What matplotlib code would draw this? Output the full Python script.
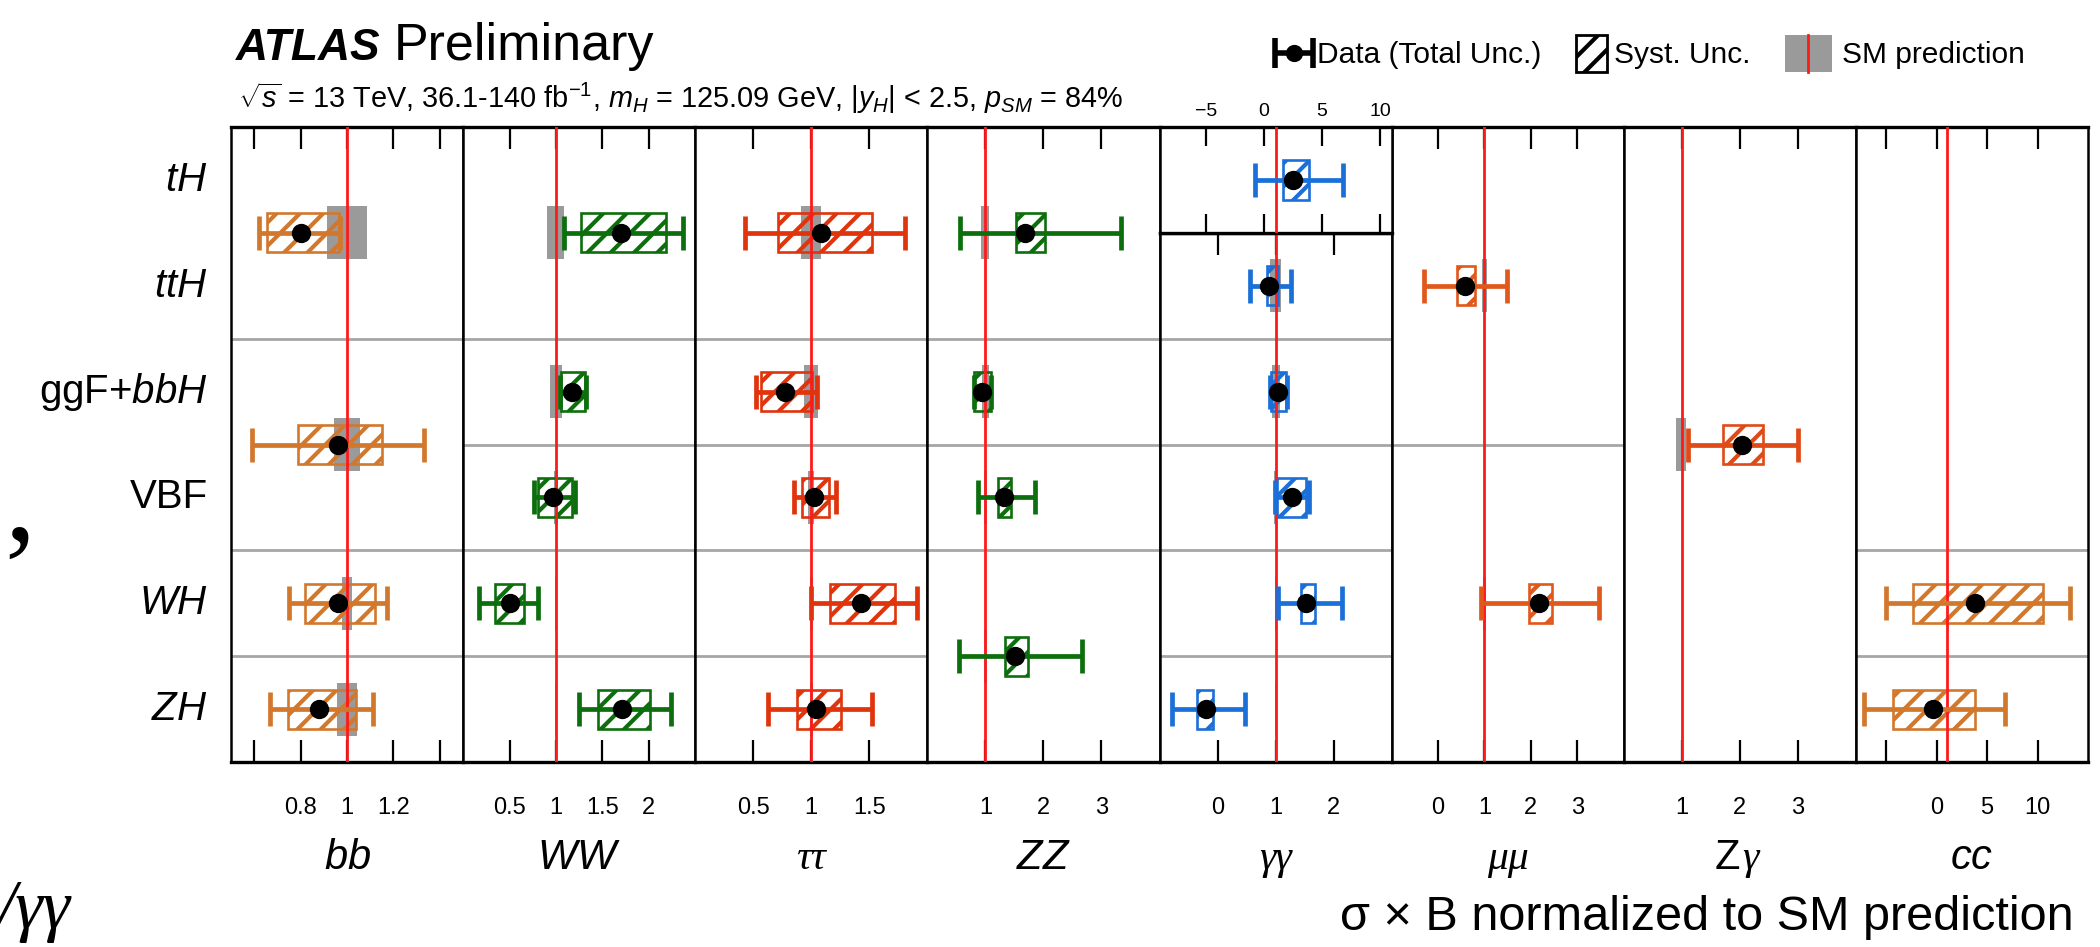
import matplotlib
matplotlib.use("Agg")
import matplotlib.pyplot as plt
from matplotlib.patches import Rectangle
from matplotlib.transforms import blended_transform_factory

# rendering at a higher dpi makes the hatch pattern coarser; K keeps sizes as at 100 dpi
DPI = 140
K = 100 / DPI

plt.rcParams['font.family'] = ['Liberation Sans', 'DejaVu Sans']
plt.rcParams['mathtext.fontset'] = 'custom'
plt.rcParams['mathtext.rm'] = 'Liberation Sans'
plt.rcParams['mathtext.it'] = 'Liberation Sans:italic'
plt.rcParams['mathtext.bf'] = 'Liberation Sans:bold'
plt.rcParams['hatch.linewidth'] = 3.0 * K

# production modes, top to bottom (row 0 = tH ... row 5 = ZH)
row_labels = ['$tH$', '$ttH$', 'ggF+$bbH$', 'VBF', '$WH$', '$ZH$']

# per channel: row of the fitted group, best fit, total unc. interval, syst. interval, SM band
bb_rows = [0.5, 2.5, 4, 5]
bb_mu = [0.80, 0.96, 0.96, 0.88]
bb_tot = [(0.62, 0.97), (0.59, 1.33), (0.75, 1.17), (0.67, 1.11)]
bb_syst = [(0.655, 0.965), (0.79, 1.15), (0.82, 1.12), (0.745, 1.04)]
bb_sm = [(0.913, 1.087), (0.943, 1.057), (0.978, 1.022), (0.958, 1.042)]

ww_rows = [0.5, 2, 3, 4, 5]
ww_mu = [1.70, 1.17, 0.97, 0.50, 1.71]
ww_tot = [(1.085, 2.365), (1.04, 1.32), (0.76, 1.21), (0.17, 0.81), (1.25, 2.24)]
ww_syst = [(1.27, 2.18), (1.05, 1.31), (0.81, 1.17), (0.34, 0.66), (1.45, 2.01)]
ww_sm = [(0.906, 1.085), (0.937, 1.07), (0.98, 1.02), (0.985, 1.015), (0.985, 1.015)]

tt_rows = [0.5, 2, 3, 4, 5]
tt_mu = [1.08, 0.77, 1.02, 1.43, 1.04]
tt_tot = [(0.43, 1.81), (0.52, 1.05), (0.85, 1.21), (1.00, 1.91), (0.63, 1.52)]
tt_syst = [(0.71, 1.52), (0.57, 1.01), (0.92, 1.15), (1.16, 1.72), (0.88, 1.26)]
tt_sm = [(0.91, 1.085), (0.94, 1.055), (0.975, 1.025), (0.985, 1.015), (0.985, 1.015)]

zz_rows = [0.5, 2, 3, 4.5]
zz_mu = [1.68, 0.94, 1.32, 1.51]
zz_tot = [(0.57, 3.34), (0.80, 1.10), (0.87, 1.85), (0.55, 2.66)]
zz_syst = [(1.52, 2.03), (0.81, 1.09), (1.22, 1.44), (1.33, 1.74)]
zz_sm = [(0.93, 1.07), (0.94, 1.06), (0.97, 1.03), (0.97, 1.03)]

yy_rows = [1, 2, 3, 4, 5]
yy_mu = [0.89, 1.04, 1.28, 1.53, -0.20]
yy_tot = [(0.56, 1.27), (0.91, 1.19), (0.99, 1.57), (1.05, 2.14), (-0.78, 0.47)]
yy_syst = [(0.85, 1.04), (0.92, 1.18), (1.03, 1.53), (1.43, 1.68), (-0.36, -0.07)]
yy_sm = [(0.91, 1.10), (0.94, 1.08), (0.98, 1.02), (0.985, 1.015), (0.985, 1.015)]

# tH -> gamma gamma has its own scale
yy_th_mu = [2.5]
yy_th_tot = [(-0.75, 6.8)]
yy_th_syst = [(1.65, 3.85)]

mm_rows = [1, 4]
mm_mu = [0.59, 2.17]
mm_tot = [(-0.30, 1.48), (0.93, 3.46)]
mm_syst = [(0.40, 0.80), (1.95, 2.45)]
mm_sm = [(0.94, 1.06), (0.97, 1.03)]

zy_rows = [2.5]
zy_mu = [2.03]
zy_tot = [(1.11, 3.00)]
zy_syst = [(1.71, 2.40)]
zy_sm = [(0.90, 1.08)]

cc_rows = [4, 5]
cc_mu = [3.85, -0.35]
cc_tot = [(-5.0, 13.2), (-7.2, 6.8)]
cc_syst = [(-2.3, 10.5), (-4.35, 3.8)]
cc_sm = [None, None]

# panel axis settings
xlims = [(0.5, 1.5), (0, 2.5), (0, 2), (0, 4), (-1, 3), (-1, 4), (0, 4), (-8, 15)]
xticks = [[0.6, 0.8, 1, 1.2, 1.4], [0.5, 1, 1.5, 2], [0.5, 1, 1.5], [1, 2, 3],
          [0, 1, 2], [0, 1, 2, 3], [1, 2, 3], [-5, 0, 5, 10]]
xticklabels = [['', '0.8', '1', '1.2', ''], ['0.5', '1', '1.5', '2'], ['0.5', '1', '1.5'],
               ['1', '2', '3'], ['0', '1', '2'], ['0', '1', '2', '3'], ['1', '2', '3'],
               ['', '0', '5', '10']]
separators = [[1.5, 3.5, 4.5], [1.5, 2.5, 3.5, 4.5], [1.5, 2.5, 3.5, 4.5], [1.5, 2.5, 3.5],
              [1.5, 2.5, 3.5, 4.5], [2.5], [], [3.5, 4.5]]
colors = ['#d2782d', '#0c6e0c', '#e0340c', '#0c6e0c', '#1a6fd8', '#e0581a', '#e04a16', '#d2782d']

channels = [
    (bb_rows, bb_mu, bb_tot, bb_syst, bb_sm),
    (ww_rows, ww_mu, ww_tot, ww_syst, ww_sm),
    (tt_rows, tt_mu, tt_tot, tt_syst, tt_sm),
    (zz_rows, zz_mu, zz_tot, zz_syst, zz_sm),
    (yy_rows, yy_mu, yy_tot, yy_syst, yy_sm),
    (mm_rows, mm_mu, mm_tot, mm_syst, mm_sm),
    (zy_rows, zy_mu, zy_tot, zy_syst, zy_sm),
    (cc_rows, cc_mu, cc_tot, cc_syst, cc_sm),
]

W, H = 2100, 947
fig = plt.figure(figsize=(W / DPI, H / DPI), dpi=DPI)

# overlay in pixel units for titles / legend
lax = fig.add_axes([0, 0, 1, 1])
lax.set_xlim(0, W)
lax.set_ylim(H, 0)
lax.axis('off')

LEFT, RIGHT, TOP, BOT = 231, 2088, 127, 762
MID = 233  # line below the tH sub-panel of gamma gamma
pw = (RIGHT - LEFT) / 8


def px_axes(x0, y0, x1, y1):
    return fig.add_axes([x0 / W, 1 - y1 / H, (x1 - x0) / W, (y1 - y0) / H])


def style_axes(ax, lw_tb=2.4):
    ax.set_yticks([])
    for s in ax.spines.values():
        s.set_linewidth(1.8 * K)
    ax.spines['top'].set_linewidth(lw_tb * K)
    ax.spines['bottom'].set_linewidth(lw_tb * K)


def draw_meas(ax, rows, mu, tot, syst, sm, color):
    for y, m, (tl, th), (sl, sh), s in zip(rows, mu, tot, syst, sm):
        if s is not None:
            ax.add_patch(Rectangle((s[0], y - 0.25), s[1] - s[0], 0.5,
                                   facecolor='#9a9a9a', edgecolor='none', zorder=1))
        ax.add_patch(Rectangle((sl, y - 0.185), sh - sl, 0.37, fill=False,
                               edgecolor=color, hatch='//', lw=1.9 * K, zorder=3))
        ax.errorbar(m, y, xerr=[[m - tl], [th - m]], fmt='none', ecolor=color,
                    elinewidth=3.4 * K, capsize=12 * K, capthick=3.4 * K, zorder=4)
        ax.plot(m, y, 'o', color='black', ms=12.5 * K, zorder=5)


axes = []
for i, (rows, mu, tot, syst, sm) in enumerate(channels):
    x0 = LEFT + i * pw
    is_yy = (i == 4)
    ax = px_axes(x0, MID if is_yy else TOP, x0 + pw, BOT)
    ax.set_xlim(*xlims[i])
    ax.set_ylim(5.5, 0.5 if is_yy else -0.5)
    style_axes(ax)
    ax.set_xticks(xticks[i])
    ax.set_xticklabels(xticklabels[i])
    ax.tick_params(axis='x', direction='in', length=15.5 * K, width=1.6 * K, top=True,
                   labelsize=17 * K, pad=25 * K)
    ax.axvline(1, color='#ff1a1a', lw=2 * K, zorder=3.5)
    for y in separators[i]:
        ax.axhline(y, color='#a6a6a6', lw=2 * K, zorder=0.5)
    draw_meas(ax, rows, mu, tot, syst, sm, colors[i])
    axes.append(ax)

# tH sub-panel of gamma gamma
x0 = LEFT + 4 * pw
axt = px_axes(x0, TOP, x0 + pw, MID)
axt.set_xlim(-9, 11)
axt.set_ylim(0.5, -0.5)
style_axes(axt)
axt.set_xticks([-5, 0, 5, 10])
axt.set_xticklabels(['\u22125', '0', '5', '10'])
axt.tick_params(axis='x', direction='in', length=14 * K, width=1.6 * K, top=True, bottom=True,
                labeltop=True, labelbottom=False, labelsize=14 * K, pad=5 * K)
axt.axvline(1, color='#ff1a1a', lw=2 * K, zorder=3.5)
draw_meas(axt, [0], yy_th_mu, yy_th_tot, yy_th_syst, [None], colors[4])

# row labels
tr = blended_transform_factory(axes[0].transAxes, axes[0].transData)
for r, lab in enumerate(row_labels):
    axes[0].text(-0.1, r, lab, transform=tr, ha='right', va='center', fontsize=29 * K)

# channel labels below the panels
chan_text = ['$bb$', '$WW$', None, '$ZZ$', None, None, None, '$cc$']
greek_text = [None, None, '\u03c4\u03c4', None, '\u03b3\u03b3', '\u03bc\u03bc', None, None]
for i in range(8):
    cx = LEFT + (i + 0.5) * pw
    if chan_text[i]:
        lax.text(cx, 869, chan_text[i], ha='center', va='baseline', fontsize=30 * K)
    elif greek_text[i]:
        lax.text(cx, 869, greek_text[i], ha='center', va='baseline', fontsize=30 * K,
                 family='Liberation Serif', style='italic')
    else:
        lax.text(cx, 869, 'Z', ha='right', va='baseline', fontsize=30 * K)
        lax.text(cx + 2, 869, '\u03b3', ha='left', va='baseline', fontsize=30 * K,
                 family='Liberation Serif', style='italic')

lax.text(2074, 930, '\u03c3 \u00d7 B normalized to SM prediction', ha='right',
         va='baseline', fontsize=35 * K)

# header
lax.text(236, 60, 'ATLAS', fontsize=32 * K, fontweight='bold', style='italic',
         va='baseline')
lax.text(394, 60, 'Preliminary', fontsize=37.5 * K, va='baseline')
lax.text(238, 108, r'$\sqrt{s}$ = 13 TeV, 36.1-140 fb$^{-1}$, $m_{H}$ = 125.09 GeV, '
         r'$|y_{H}|$ < 2.5, $p_{SM}$ = 84%', fontsize=20.8 * K, va='baseline')

# legend
lax.errorbar(1294, 53, xerr=19, fmt='none', ecolor='black', elinewidth=4 * K,
             capsize=11 * K, capthick=4 * K)
lax.plot(1294, 53, 'o', color='black', ms=11 * K)
lax.text(1317, 55, 'Data (Total Unc.)', fontsize=21.5 * K, va='center')
lax.add_patch(Rectangle((1576, 35), 31, 37, fill=False, edgecolor='black', hatch='//',
                        lw=2 * K))
lax.text(1614, 55, 'Syst. Unc.', fontsize=21.5 * K, va='center')
lax.add_patch(Rectangle((1785, 35), 47, 37, facecolor='#9a9a9a', edgecolor='none'))
lax.plot([1808, 1808], [35, 72], color='#ff1a1a', lw=2 * K)
lax.text(1842, 55, 'SM prediction', fontsize=21.5 * K, va='center')

# cropped fragments at the left edge of the original slide
lax.text(4, 540, ',', fontsize=90 * K, family='Liberation Serif', va='baseline')
lax.text(-4, 928, '/\u03b3\u03b3', fontsize=50 * K, family='Liberation Serif', style='italic',
         va='baseline')

fig.savefig('out.png', dpi=DPI)
